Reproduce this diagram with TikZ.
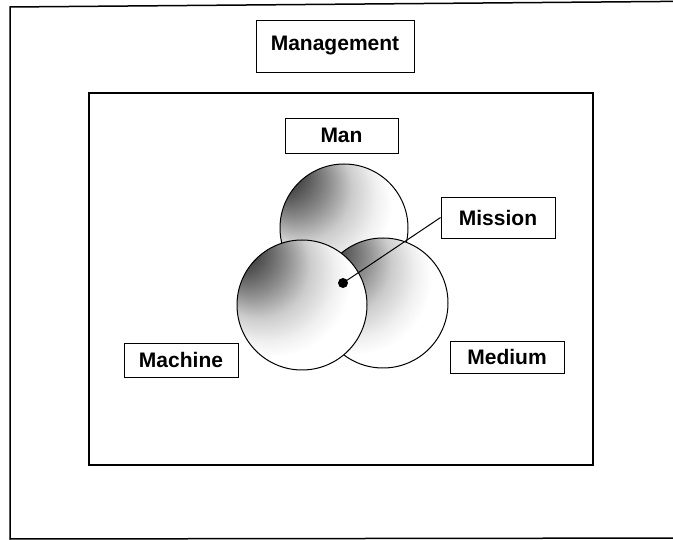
\documentclass[tikz,border=0pt]{standalone}
\usepackage{fontspec}
\setmainfont{Liberation Sans}
\usepackage{tikz}
\usepackage{xcolor}

\pgfdeclareradialshading{vennball}{\pgfpoint{-28bp}{25bp}}{%
  color(0bp)=(black!92); color(7bp)=(black!72); color(14bp)=(black!45);
  color(20bp)=(black!20); color(26bp)=(black!6); color(30bp)=(white);
  color(50bp)=(white)}

\tikzset{
  labelbox/.style={draw, line width=0.9pt, inner sep=0pt,
    font=\bfseries\fontsize{21}{25}\selectfont},
  frame/.style={line width=1.5pt},
  venn/.style={draw, line width=1pt, shading=vennball}
}

\begin{document}
\begin{tikzpicture}[x=1pt,y=-1pt]
  \useasboundingbox (0,0) rectangle (673,540);
  \clip (0,0) rectangle (673,540);
  % frames
  \draw[frame] (10,7) -- (720,1) -- (720,538) -- (10,539) -- cycle;
  \draw[frame] (89,93) rectangle (593,465);
  % circle centres
  \coordinate (top) at (344,228);
  \coordinate (right) at (383,303);
  \coordinate (left) at (302,305);
  \coordinate (dot) at (343,283);
  \path[venn] (top) circle (64);
  \path[venn] (right) circle (65);
  \path[venn] (left) circle (65);
  % labels
  \node[labelbox, minimum width=158, minimum height=52] (management) at (335,46) {Management};
  \node[labelbox, minimum width=113, minimum height=35] (man) at (341.5,135.5) {Man};
  \node[labelbox, minimum width=114, minimum height=34] (machine) at (181,360) {Machine};
  \node[labelbox, minimum width=114, minimum height=32] (medium) at (507,357) {Medium};
  \node[labelbox, minimum width=114, minimum height=41] (mission) at (498,217.5) {Mission};
  \fill (dot) circle (5);
  \draw[line width=1pt] (dot) -- (mission.west);
\end{tikzpicture}
\end{document}
